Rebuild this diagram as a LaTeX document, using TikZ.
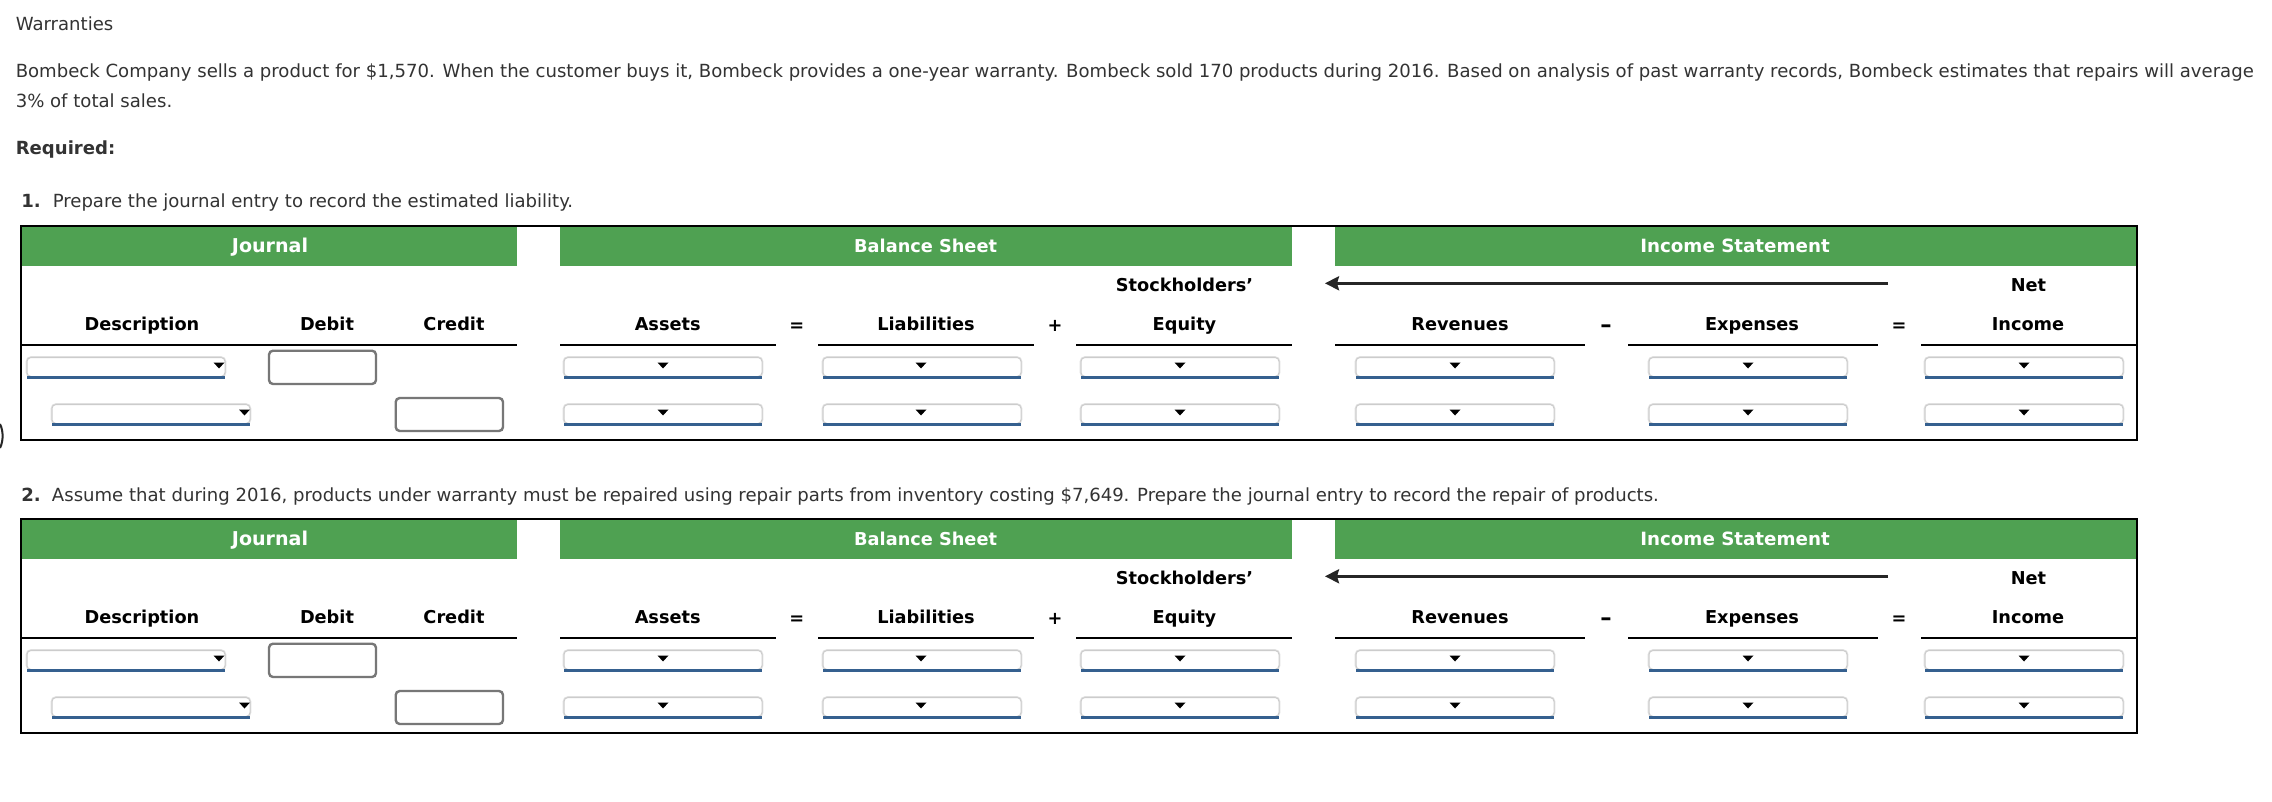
\documentclass[tikz,border=0pt]{standalone}
\usepackage{fontspec}
\setmainfont{DejaVu Sans}
\definecolor{hgreen}{HTML}{4FA152}
\definecolor{bodytext}{HTML}{333333}
\definecolor{ddblue}{HTML}{35608F}
\definecolor{inputgray}{HTML}{777777}
\newcommand{\bodyfont}{\fontsize{13.56}{17}\selectfont}
\newcommand{\headfont}{\fontsize{13.3}{16}\selectfont\bfseries}
\newcommand{\dropbox}[4]{% x1, x2, ytop, arrow x
  \draw[shadowA] (#1,#3) rectangle (#2,#3+19);
  \draw[shadowB] (#1,#3) rectangle (#2,#3+19);
  \draw[ddline] (#1,#3+19.5) -- (#2,#3+19.5);
  \fill[black] (#4-5.5,#3+5) -- (#4+5.5,#3+5) -- (#4,#3+11) -- cycle;
}
\tikzset{
  shadowA/.style={draw=black!12,line width=2.6*0.75pt,rounded corners=3pt,fill=white},
  shadowB/.style={draw=black!20,line width=1*0.75pt,rounded corners=3pt,fill=white},
  ddline/.style={draw=ddblue,line width=3*0.75pt},
  inputbox/.style={draw=inputgray,line width=2.4*0.75pt,rounded corners=3pt,fill=white},
  bodylabel/.style={anchor=base west,inner sep=0pt,text=bodytext,font=\bodyfont},
  boldlabel/.style={anchor=base west,inner sep=0pt,text=bodytext,font=\bodyfont\bfseries},
  headlabel/.style={anchor=base,inner sep=0pt,text=black,font=\headfont},
  banner/.style={anchor=base,inner sep=0pt,text=white,font=\headfont},
  opsign/.style={anchor=center,inner sep=0pt,text=black,font=\headfont},
  greenband/.style={fill=hgreen},
  rulebar/.style={draw=black,line width=2.1*0.75pt},
  frame/.style={draw=black,line width=2.1*0.75pt},
  flowarrow/.style={draw=black!85,line width=2.8*0.75pt,-{Stealth[length=10.5pt,width=10.5pt,inset=1.5pt]}}
}
\usetikzlibrary{arrows.meta}
\begin{document}
\begin{tikzpicture}[x=0.75pt,y=-0.75pt]
\useasboundingbox (0,0) rectangle (2272,802);
\fill[white] (0,0) rectangle (2272,802);
\node[bodylabel] (title) at (15.5,31) {Warranties};
\node[bodylabel] (para1) at (15.5,78) {Bombeck Company sells a product for \$1,570. When the customer buys it, Bombeck provides a one-year warranty. Bombeck sold 170 products during 2016. Based on analysis of past warranty records, Bombeck estimates that repairs will average};
\node[bodylabel] (para2) at (15.5,108) {3\% of total sales.};
\node[boldlabel] (req) at (15.5,154.5) {Required:};
\node[boldlabel] (numa) at (21,207.6) {1.};
\node[bodylabel] (qa) at (52.5,207.6) {Prepare the journal entry to record the estimated liability.};
\node[boldlabel] (numb) at (21,501.9) {2.};
\node[bodylabel] (qb) at (51.7,501.9) {Assume that during 2016, products under warranty must be repaired using repair parts from inventory costing \$7,649. Prepare the journal entry to record the repair of products.};
\draw[black!85,line width=2*0.75pt] (0,424) .. controls (3.5,431) and (3.5,441) .. (0,448);
\foreach \t/\dy in {a/0,b/293}{
\begin{scope}[shift={(0,\dy)}]
  \fill[greenband] (21,226) rectangle (517,265.7);
  \fill[greenband] (560,226) rectangle (1292,265.7);
  \fill[greenband] (1335,226) rectangle (2137,265.7);
  \node[banner,font=\fontsize{14.3}{16}\selectfont\bfseries] (jour\t) at (270,252.5) {Journal};
  \node[banner] (bal\t) at (925.6,252.5) {Balance Sheet};
  \node[banner,font=\fontsize{13.7}{16}\selectfont\bfseries] (inc\t) at (1735,252.5) {Income Statement};
  \node[headlabel] (sth\t) at (1184.5,291.8) {Stockholders’};
  \node[headlabel] (net\t) at (2028.5,291.8) {Net};
  \foreach \n/\lab/\cx in {de/Description/142,db/Debit/327,cr/Credit/454,as/Assets/667.7,li/Liabilities/926,eq/Equity/1184.5,re/Revenues/1460,ex/Expenses/1752,ni/Income/2028}{
    \node[headlabel] (\n\t) at (\cx,330.5) {\lab};
  }
  \node[opsign] (opa\t) at (796.7,327.5) {=};
  \node[opsign] (opb\t) at (1055,325.5) {+};
  \node[opsign,font=\fontsize{17}{17}\selectfont\bfseries] (opc\t) at (1606,329) {–};
  \node[opsign] (opd\t) at (1899,327.5) {=};
  \foreach \xa/\xb in {21/517,560/775.8,818/1034,1076/1292,1335/1585,1628/1878,1921/2137}{
    \draw[rulebar] (\xa,345) -- (\xb,345);
  }
  \coordinate (arrowfrom\t) at (1888,283.3);
  \coordinate (arrowto\t) at (1325,283.3);
  \draw[flowarrow] (arrowfrom\t) -- (arrowto\t);
  \dropbox{27}{225}{357.5}{219}
  \dropbox{52}{250}{404.5}{244.5}
  \foreach \xa/\xb/\xc in {564/762/663,823/1021/921,1081/1279/1180,1356/1554/1455,1649/1847/1748,1925/2123/2024}{
    \dropbox{\xa}{\xb}{357.5}{\xc}
    \dropbox{\xa}{\xb}{404.5}{\xc}
  }
  \draw[inputbox] (269,350.7) rectangle (376,384);
  \draw[inputbox] (395.7,398) rectangle (503,431);
  \draw[frame] (21,225.6) rectangle (2137,440.2);
\end{scope}
}
\end{tikzpicture}
\end{document}
